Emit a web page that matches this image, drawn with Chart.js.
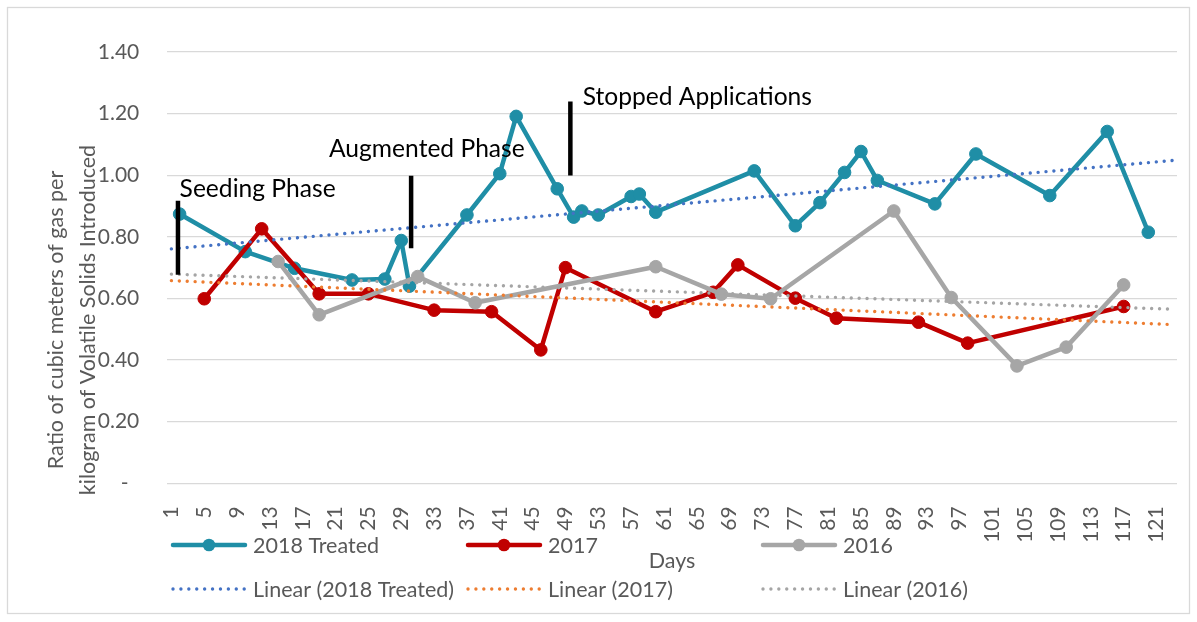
<!DOCTYPE html>
<html><head><meta charset="utf-8">
<script src="https://cdn.jsdelivr.net/npm/chart.js@4.4.1/dist/chart.umd.min.js"></script>
<style>html,body{margin:0;padding:0;background:#fff;}#wrap{position:relative;width:1197px;height:622px;}</style>
</head><body><div id="wrap"><canvas id="c" width="1197" height="622"></canvas></div>
<script>
// ---- data ----
const xTickDays = [1,5,9,13,17,21,25,29,33,37,41,45,49,53,57,61,65,69,73,77,81,85,89,93,97,101,105,109,113,117,121];
const yTickValues = [0,0.2,0.4,0.6,0.8,1.0,1.2,1.4];
const yTickLabels = ['-','0.20','0.40','0.60','0.80','1.00','1.20','1.40'];

const days2018 = [2,10,16,23,27,29,30,37,41,43,48,50,51,53,57,58,60,72,77,80,83,85,87,94,99,108,115,120];
const values2018 = [0.874,0.752,0.698,0.660,0.663,0.788,0.640,0.871,1.005,1.191,0.956,0.864,0.884,0.871,0.931,0.939,0.880,1.014,0.836,0.911,1.009,1.077,0.983,0.907,1.069,0.934,1.142,0.815];

const days2017 = [5,12,19,25,33,40,46,49,60,67,70,77,82,92,98,117];
const values2017 = [0.599,0.826,0.615,0.615,0.562,0.557,0.433,0.700,0.557,0.620,0.709,0.601,0.536,0.523,0.455,0.574];

const days2016 = [14,19,31,38,60,68,74,89,96,104,110,117];
const values2016 = [0.720,0.547,0.671,0.586,0.703,0.614,0.599,0.884,0.603,0.381,0.442,0.644];

const trendDays = [1,123];
const trend2018 = [0.761,1.048];
const trend2017 = [0.658,0.515];
const trend2016 = [0.679,0.565];

const annoLabels = ['Seeding Phase','Augmented Phase','Stopped Applications'];
const annoBarDays = [1.8,30.2,49.6];
const annoBarLow = [0.677,0.763,0.999];
const annoBarHigh = [0.917,0.998,1.239];
const annoTextDays = [2.0,20.2,51.1];
const annoTextValues = [0.930,1.060,1.229];

const seriesNames = ['2018 Treated','2017','2016'];
const yTitleLines = ['Ratio of cubic meters of gas per','kilogram of Volatile Solids Introduced'];
const xTitle = 'Days';

// ---- build ----
const pts = (xs, ys) => xs.map((x,i)=>({x:x,y:ys[i]}));
const TEAL='#1F8EA6', RED='#C00000', GRAY='#A6A6A6';
const FONT='Lato';
Chart.defaults.font.family = FONT;

function series(label, data, color, order){
  return {label, data, borderColor:color, backgroundColor:color, borderWidth:4.5,
    pointRadius:6.3, pointHoverRadius:6.3, pointBorderWidth:1, pointBorderColor:color, pointBackgroundColor:color,
    tension:0, borderJoinStyle:'round', borderCapStyle:'round', order};
}
function trend(label, data, color, order){
  return {label, data, borderColor:color, backgroundColor:color, borderWidth:3.4,
    borderDash:[0.01,7.9], borderCapStyle:'round', pointRadius:0, tension:0, order};
}
const datasets = [
  series(seriesNames[0], pts(days2018, values2018), TEAL, 20),
  series(seriesNames[1], pts(days2017, values2017), RED, 19),
  series(seriesNames[2], pts(days2016, values2016), GRAY, 18),
  trend('Linear ('+seriesNames[0]+')', pts(trendDays, trend2018), '#4472C4', 17),
  trend('Linear ('+seriesNames[1]+')', pts(trendDays, trend2017), '#ED7D31', 16),
  trend('Linear ('+seriesNames[2]+')', pts(trendDays, trend2016), '#A5A5A5', 15),
];
annoBarDays.forEach((d,i)=>{
  datasets.push({label:'_bar'+i, data:[{x:d,y:annoBarLow[i]},{x:d,y:annoBarHigh[i]}],
    borderColor:'#000', borderWidth:4.5, pointRadius:0, borderCapStyle:'butt', order:1+i});
});

const extras = {
  id:'extras',
  beforeDraw(chart){
    const c = chart.ctx;
    c.save(); c.fillStyle='#fff'; c.fillRect(0,0,chart.width,chart.height);
    c.strokeStyle='#D9D9D9'; c.lineWidth=1.3; c.strokeRect(7.5,7.5,1182,606); c.restore();
  },
  afterDatasetsDraw(chart){
    const c = chart.ctx, xs = chart.scales.x, ys = chart.scales.y;
    c.save();
    c.fillStyle='#000'; c.font='24.6px '+FONT; c.textAlign='left'; c.textBaseline='alphabetic';
    annoLabels.forEach((t,i)=>{ c.fillText(t, xs.getPixelForValue(annoTextDays[i]), ys.getPixelForValue(annoTextValues[i])); });
    c.restore();
  },
  afterDraw(chart){
    const c = chart.ctx;
    c.save();
    // y title
    c.fillStyle='#595959'; c.font='21.5px '+FONT; c.textAlign='center'; c.textBaseline='alphabetic';
    const tx=[63,95];
    yTitleLines.forEach((t,i)=>{ c.save(); c.translate(tx[i],320); c.rotate(-Math.PI/2); c.fillText(t,0,0); c.restore(); });
    // x title
    c.textBaseline='middle'; c.fillText(xTitle, 672, 561);
    // legend
    const colX=[173,468,763], rowY=[545,589];
    c.textAlign='left';
    for(let i=0;i<6;i++){
      const ds = chart.data.datasets[i];
      const x0 = colX[i%3], y0 = rowY[Math.floor(i/3)], len=72;
      c.save();
      c.strokeStyle = ds.borderColor; c.lineWidth = ds.borderWidth; c.lineCap='round';
      if(ds.borderDash) c.setLineDash(ds.borderDash);
      c.beginPath(); c.moveTo(x0,y0); c.lineTo(x0+len,y0); c.stroke();
      if(ds.pointRadius){ c.fillStyle=ds.borderColor; c.beginPath(); c.arc(x0+len/2,y0,ds.pointRadius,0,Math.PI*2); c.fill(); }
      c.restore();
      c.fillText(ds.label, x0+len+8, y0+1);
    }
    c.restore();
  }
};

new Chart(document.getElementById('c'), {
  type:'line',
  data:{datasets},
  options:{
    responsive:false, animation:false, events:[],
    layout:{padding:{left:0,right:15,top:52,bottom:0}},
    plugins:{legend:{display:false}, tooltip:{enabled:false}},
    scales:{
      x:{type:'linear', min:0.5, max:123.5,
        afterBuildTicks:s=>{ s.ticks = xTickDays.map(v=>({value:v})); },
        afterFit:s=>{ s.height = 622-483.3; },
        ticks:{autoSkip:false, maxRotation:90, minRotation:90, padding:15, color:'#595959', font:{size:21}, callback:v=>String(v)},
        grid:{display:false}, border:{display:false}},
      y:{type:'linear', min:0, max:1.4,
        afterBuildTicks:s=>{ s.ticks = yTickValues.map(v=>({value:v})); },
        afterFit:s=>{ s.width = 167.3; },
        ticks:{padding:28, color:'#595959', font:{size:21}, callback:(v,i)=>{ const l=yTickLabels[i]; return l==='-' ? '-  ' : l; }},
        grid:{color:'#D9D9D9', lineWidth:1.3, drawTicks:false}, border:{display:false}}
    }
  },
  plugins:[extras]
});
</script></body></html>
